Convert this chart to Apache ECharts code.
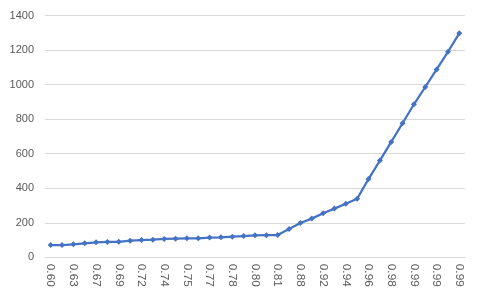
<!DOCTYPE html>
<html><head><meta charset="utf-8">
<script src="https://cdn.jsdelivr.net/npm/echarts@6/dist/echarts.min.js"></script>
<style>html,body{margin:0;padding:0;background:#fff}#c{width:500px;height:301px}</style>
</head><body><div id="c"></div>
<script>
const categories = ["0.60","0.62","0.63","0.65","0.67","0.68","0.69","0.70","0.72","0.73","0.74","0.74","0.75","0.76","0.77","0.77","0.78","0.79","0.80","0.80","0.81","0.84","0.88","0.90","0.92","0.93","0.94","0.95","0.96","0.97","0.98","0.99","0.99","0.99","0.99","0.99","0.99"];
const values = [71,71,75,81,87,89,90,96,100,102,106,108,110,110,114,116,119,123,127,128,129,164,199,224,255,282,310,339,453,560,668,776,886,986,1088,1190,1297];
const yMin = 0, yMax = 1400, yStep = 200;

const chart = echarts.init(document.getElementById('c'), null, {renderer:'canvas'});
chart.setOption({
  animation:false,
  grid:{left:45,right:35,top:15.5,bottom:43.7},
  xAxis:{type:'category',data:categories,boundaryGap:true,
    axisLine:{lineStyle:{color:'#d9d9d9',width:1}},
    axisTick:{show:false},
    axisLabel:{interval:1,rotate:-90,color:'#595959',fontSize:11.8,fontFamily:'Liberation Sans, Arial',margin:6.5}},
  yAxis:{type:'value',min:yMin,max:yMax,interval:yStep,
    axisLine:{show:false},axisTick:{show:false},
    splitLine:{lineStyle:{color:'#d9d9d9',width:1}},
    axisLabel:{color:'#595959',fontSize:11,fontFamily:'Liberation Sans, Arial',margin:11,formatter:v=>String(v)}},
  series:[{type:'line',data:values,symbol:'diamond',symbolSize:6,
    lineStyle:{color:'#4472C4',width:2.25},
    itemStyle:{color:'#4472C4'}}]
});
</script></body></html>
